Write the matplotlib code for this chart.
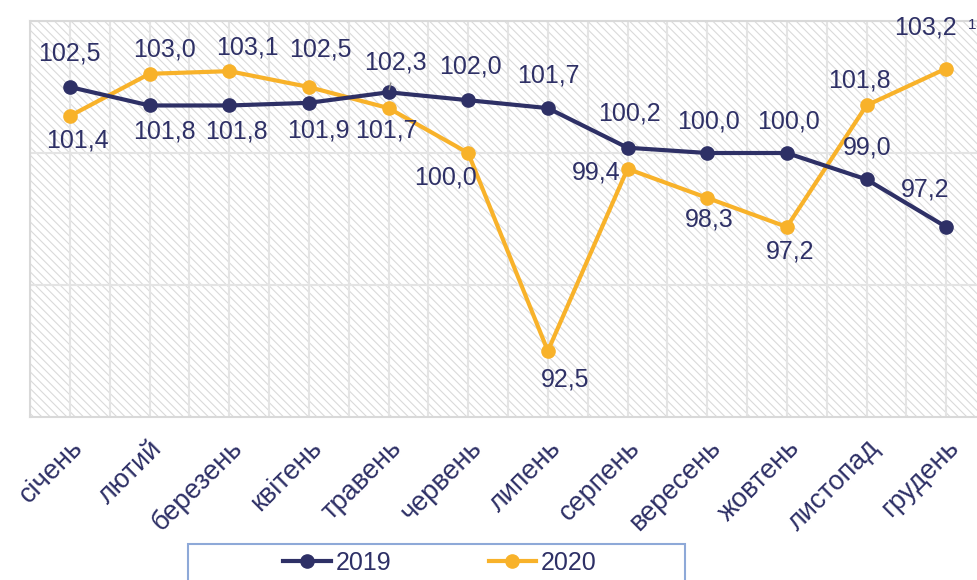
import matplotlib
matplotlib.use("Agg")
import matplotlib.pyplot as plt
from matplotlib.lines import Line2D
from matplotlib.patches import Rectangle

plt.rcParams['font.family'] = ['Liberation Sans', 'DejaVu Sans']
plt.rcParams['hatch.linewidth'] = 0.8

months = ["січень", "лютий", "березень", "квітень", "травень", "червень",
          "липень", "серпень", "вересень", "жовтень", "листопад", "грудень"]
vals_2019 = [102.5, 101.8, 101.8, 101.9, 102.3, 102.0, 101.7, 100.2, 100.0, 100.0, 99.0, 97.2]
vals_2020 = [101.4, 103.0, 103.1, 102.5, 101.7, 100.0, 92.5, 99.4, 98.3, 97.2, 101.8, 103.2]

# label offsets in pixels (dx, dy up)
off_2019 = [(0, 33), (15, -26), (7, -26), (10, -28), (7, 30), (2, 34),
            (1, 33), (2, 34), (1, 31), (2, 31), (1, 32), (-21, 37)]
off_2020 = [(8, -24), (15, 24), (18, 24), (12, 37), (-2, -22), (-23, -24),
            (17, -28), (-31, -4), (2, -22), (3, -25), (-7, 25), (-21, 41)]

navy = "#2e3066"
orange = "#f8b22a"
W, H = 977, 580

fig = plt.figure(figsize=(W / 100, H / 100), dpi=100)
ax = fig.add_axes([30 / W, 163 / H, 956 / W, 396 / H])

ax.patch.set_facecolor("white")
ax.patch.set_hatch("\\\\\\\\")
ax.patch.set_edgecolor("#dadada")
ax.patch.set_linewidth(0)

x = list(range(len(months)))
ax.set_xlim(-0.5, 11.5)
ax.set_ylim(90, 105)
ax.set_yticks([90, 95, 100, 105])
ax.set_yticklabels([])
ax.tick_params(axis="y", length=0)

# gridlines: horizontal every 5, vertical at categories and between them
for yv in [95, 100, 105]:
    ax.axhline(yv, color="#e4e4e4", lw=1.5, zorder=1)
for k in range(25):
    ax.axvline(-0.5 + k * 0.5, color="#e4e4e4", lw=1.5, zorder=1)
for s in ax.spines.values():
    s.set_color("#d9d9d9")
    s.set_linewidth(1.5)

ax.plot(x, vals_2019, color=navy, lw=3, marker="o", ms=9.5, zorder=4, clip_on=False)
ax.plot(x, vals_2020, color=orange, lw=3, marker="o", ms=9.5, zorder=3, clip_on=False)

for i, v in enumerate(vals_2019):
    ax.annotate(f"{v:.1f}".replace(".", ","), (i, v), xytext=off_2019[i],
                textcoords="offset pixels", ha="center", va="center",
                fontsize=18, color=navy, zorder=6)
for i, v in enumerate(vals_2020):
    ax.annotate(f"{v:.1f}".replace(".", ","), (i, v), xytext=off_2020[i],
                textcoords="offset pixels", ha="center", va="center",
                fontsize=18, color=navy, zorder=6)

# small leader line for May 2019 label
ax.annotate("", xy=(4, vals_2019[4]), xytext=(3, 12), textcoords="offset pixels",
            arrowprops=dict(arrowstyle="-", color="#8c8c8c", lw=1), zorder=5)

ax.set_xticks(x)
ax.set_xticklabels(months, rotation=45, ha="right", va="top",
                   rotation_mode="anchor", fontsize=19.5, color=navy)
ax.tick_params(axis="x", length=0, pad=13)

fig.text(968 / W, 1 - 25 / H, "1", fontsize=11, color=navy, va="center", ha="left")

# legend
handles = [Line2D([], [], color=navy, lw=3, marker="o", ms=9.5),
           Line2D([], [], color=orange, lw=3, marker="o", ms=9.5)]
fig.legend(handles, ["2019", "2020"], loc="center", bbox_to_anchor=(440 / W, 17 / H),
           ncol=2, frameon=False, fontsize=18, handlelength=1.9,
           handletextpad=0.2, columnspacing=3.9, labelcolor=navy)
fig.patches.append(Rectangle((188 / W, -0.05), 497 / W, 36 / H + 0.05,
                             transform=fig.transFigure, fill=False,
                             edgecolor="#8ea9d8", lw=1.5))

fig.savefig("out.png", dpi=100)
